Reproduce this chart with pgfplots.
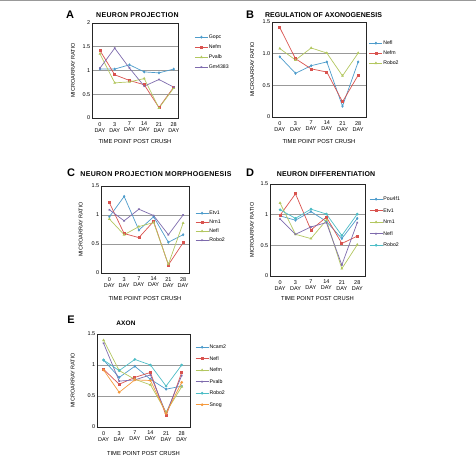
\documentclass[border=0pt]{standalone}
\usepackage{pgfplots}
\pgfplotsset{compat=1.18}
\usepackage{fontspec}
\setmainfont{Liberation Sans}
\definecolor{cA}{HTML}{4E9CCB}
\definecolor{cB}{HTML}{D9534F}
\definecolor{cC}{HTML}{B3C760}
\definecolor{cD}{HTML}{7E6BAD}
\definecolor{cE}{HTML}{4DBDC6}
\definecolor{cF}{HTML}{F59A3D}
\newcommand{\ttl}[2]{\fontsize{#1}{8}\bfseries\addfontfeatures{LetterSpace=#2}}
\pgfplotsset{
  panel/.style={
    scale only axis, anchor=south west,
    ymin=0,
    xtick={0,1,2,3,4,5},
    xticklabels={0\\DAY,3\\DAY,7\\DAY,14\\DAY,21\\DAY,28\\DAY},
    xticklabel style={align=center, font=\fontsize{5.5}{6}\selectfont, inner sep=1pt, yshift=-3pt},
    yticklabel style={font=\fontsize{5.5}{6}\selectfont, inner sep=1.5pt},
    ymajorgrids, grid style={black!40, line width=0.5pt},
    axis line style={black!85, line width=0.7pt},
    major tick length=0pt,
    xlabel={TIME POINT POST CRUSH}, ylabel={MICROARRAY RATIO},
    xlabel style={font=\fontsize{5.8}{6}\selectfont},
    ylabel style={font=\fontsize{5.5}{6}\selectfont},
    every axis plot/.append style={line width=0.7pt, mark size=1pt},
    legend style={draw=none, fill=none, font=\fontsize{5.2}{6}\selectfont, inner sep=0pt,
      anchor=north west, nodes={inner sep=0.5pt, text height=3.6pt, text depth=0.9pt}},
    legend cell align=left,
    legend image code/.code={\draw[mark repeat=2,mark phase=2,##1] plot coordinates {(0cm,0cm) (0.23cm,0cm) (0.46cm,0cm)};},
    /pgf/number format/assume math mode=true,
  },
  s1/.style={color=cA, mark=diamond*},
  s2/.style={color=cB, mark=square*},
  s3/.style={color=cC, mark=triangle*},
  s4/.style={color=cD, mark=x},
  s5/.style={color=cE, mark=*},
  s6/.style={color=cF, mark=*},
}
\begin{document}
\begin{tikzpicture}[x=1pt,y=1pt]
\useasboundingbox (0,0) rectangle (476,455);
\draw[black!40, line width=1pt] (0,454) -- (476,454);
% ---------- A ----------
\node[font=\fontsize{11}{11}\bfseries] at (70,440) {A};
\node[font=\ttl{7}{4.5}] at (137.5,440) {NEURON PROJECTION};
\begin{axis}[panel, at={(92pt,337pt)}, width=86pt, height=95pt,
  xmin=-0.54, xmax=5.29, ymax=2, ytick={0,0.5,1,1.5,2},
  yticklabels={0,0.5,1,1.5,2},
  ylabel style={at={(axis description cs:-0.22,0.5)}, anchor=center},
  xlabel style={at={(axis description cs:0.5,-0.25)}, anchor=center},
  legend style={at={(1.19,0.882)}, row sep=4.5pt}]
\addplot[s1] coordinates {(0,1.03) (1,1.03) (2,1.12) (3,0.97) (4,0.95) (5,1.03)};
\addplot[s2] coordinates {(0,1.42) (1,0.91) (2,0.79) (3,0.70) (4,0.22) (5,0.65)};
\addplot[s3] coordinates {(0,1.35) (1,0.74) (2,0.76) (3,0.83) (4,0.21) (5,0.63)};
\addplot[s4] coordinates {(0,1.05) (1,1.47) (2,1.05) (3,0.67) (4,0.81) (5,0.65)};
\legend{Gopc,Nefm,Pvalb,Gm4383}
\end{axis}
% ---------- B ----------
\node[font=\fontsize{11}{11}\bfseries] at (250,440) {B};
\node[font=\ttl{7}{0.5}] at (323.5,440) {REGULATION OF AXONOGENESIS};
\begin{axis}[panel, at={(272pt,338pt)}, width=94pt, height=95pt,
  xmin=-0.5, xmax=5.5, ymax=1.5, ytick={0,0.5,1,1.5},
  yticklabels={0,0.5,1.0,1.5},
  ylabel style={at={(axis description cs:-0.21,0.5)}, anchor=center},
  xlabel style={at={(axis description cs:0.5,-0.26)}, anchor=center},
  legend style={at={(1.03,0.808)}, row sep=4.5pt}]
\addplot[s1] coordinates {(0,0.95) (1,0.69) (2,0.81) (3,0.87) (4,0.17) (5,0.87)};
\addplot[s2] coordinates {(0,1.41) (1,0.92) (2,0.76) (3,0.71) (4,0.24) (5,0.66)};
\addplot[s3] coordinates {(0,1.08) (1,0.90) (2,1.09) (3,1.01) (4,0.65) (5,1.01)};
\legend{Nefl,Nefm,Robo2}
\end{axis}
% ---------- C ----------
\node[font=\fontsize{11}{11}\bfseries] at (71,282) {C};
\node[font=\ttl{7}{4.5}] at (156,281) {NEURON PROJECTION MORPHOGENESIS};
\begin{axis}[panel, at={(101pt,182pt)}, width=88pt, height=87pt,
  xmin=-0.57, xmax=5.4, ymax=1.5, ytick={0,0.5,1,1.5},
  yticklabels={0,0.5,1,1.5},
  ylabel style={at={(axis description cs:-0.23,0.5)}, anchor=center},
  xlabel style={at={(axis description cs:0.5,-0.29)}, anchor=center},
  legend style={at={(1.068,0.721)}, row sep=3.5pt}]
\addplot[s1] coordinates {(0,0.97) (1,1.32) (2,0.74) (3,0.97) (4,0.53) (5,0.66)};
\addplot[s2] coordinates {(0,1.21) (1,0.68) (2,0.61) (3,0.89) (4,0.14) (5,0.52)};
\addplot[s3] coordinates {(0,0.93) (1,0.66) (2,0.80) (3,0.87) (4,0.15) (5,0.86)};
\addplot[s4] coordinates {(0,1.09) (1,0.90) (2,1.10) (3,0.99) (4,0.66) (5,1.00)};
\legend{Etv1,Nrn1,Nefl,Robo2}
\end{axis}
% ---------- D ----------
\node[font=\fontsize{11}{11}\bfseries] at (250,282) {D};
\node[font=\ttl{7}{2.6}] at (326,281) {NEURON DIFFERENTIATION};
\begin{axis}[panel, at={(270pt,179pt)}, width=95pt, height=92pt,
  xmin=-0.65, xmax=5.5, ymax=1.5, ytick={0,0.5,1,1.5},
  yticklabels={0,0.5,1,1.5},
  ylabel style={at={(axis description cs:-0.19,0.5)}, anchor=center},
  xlabel style={at={(axis description cs:0.5,-0.24)}, anchor=center},
  legend style={at={(1.042,0.867)}, row sep=6pt}]
\addplot[s1] coordinates {(0,0.98) (1,0.91) (2,1.05) (3,0.89) (4,0.61) (5,0.94)};
\addplot[s2] coordinates {(0,0.99) (1,1.34) (2,0.75) (3,0.96) (4,0.53) (5,0.65)};
\addplot[s3] coordinates {(0,1.19) (1,0.68) (2,0.61) (3,0.91) (4,0.12) (5,0.51)};
\addplot[s4] coordinates {(0,0.93) (1,0.68) (2,0.80) (3,0.87) (4,0.18) (5,0.87)};
\addplot[s5] coordinates {(0,1.08) (1,0.94) (2,1.09) (3,1.01) (4,0.66) (5,1.01)};
\legend{Pou4f1,Etv1,Nrn1,Nefl,Robo2}
\end{axis}
% ---------- E ----------
\node[font=\fontsize{11}{11}\bfseries] at (71,135) {E};
\node[font=\ttl{6.5}{2}] at (126,132) {AXON};
\begin{axis}[panel, at={(97pt,28pt)}, width=93pt, height=93pt,
  xmin=-0.42, xmax=5.53, ymax=1.5, ytick={0,0.5,1,1.5},
  yticklabels={0,0.5,1,1.5},
  ylabel style={at={(axis description cs:-0.26,0.5)}, anchor=center},
  xlabel style={at={(axis description cs:0.5,-0.28)}, anchor=center},
  legend style={at={(1.054,0.89)}, row sep=6pt}]
\addplot[s1] coordinates {(0,1.08) (1,0.80) (2,0.98) (3,0.77) (4,0.61) (5,0.66)};
\addplot[s2] coordinates {(0,0.93) (1,0.69) (2,0.80) (3,0.88) (4,0.18) (5,0.88)};
\addplot[s3] coordinates {(0,1.40) (1,0.91) (2,0.77) (3,0.68) (4,0.24) (5,0.65)};
\addplot[s4] coordinates {(0,1.35) (1,0.74) (2,0.76) (3,0.84) (4,0.22) (5,0.83)};
\addplot[s5] coordinates {(0,1.08) (1,0.91) (2,1.09) (3,1.00) (4,0.66) (5,1.00)};
\addplot[s6] coordinates {(0,0.92) (1,0.56) (2,0.76) (3,0.75) (4,0.22) (5,0.72)};
\legend{Ncam2,Nefl,Nefm,Pvalb,Robo2,Snog}
\end{axis}
\end{tikzpicture}
\end{document}
